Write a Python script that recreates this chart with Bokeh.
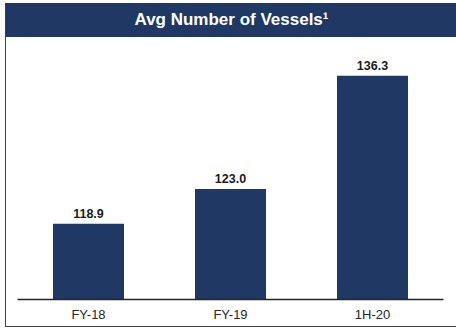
from bokeh.plotting import figure
from bokeh.models import Div, ColumnDataSource, FactorRange, Range1d
from bokeh.layouts import column
from bokeh.core.properties import value
from bokeh.embed import file_html
from bokeh.resources import INLINE

# ---- data ----
categories = ["FY-18", "FY-19", "1H-20"]
vessels = [118.9, 123.0, 136.3]
value_labels = ["118.9", "123.0", "136.3"]
title_text = "Avg Number of Vessels\u00b9"
y_start = 110.0
y_end = 140.8

NAVY = "#1F3864"
FONT = "Liberation Sans"

src = ColumnDataSource(dict(cat=categories, val=vessels, lab=value_labels))

p = figure(
    x_range=FactorRange(*categories),
    y_range=Range1d(y_start, y_end),
    width=451, height=289,
    title=None,
    y_axis_location=None,
    output_backend="svg",
    toolbar_location=None,
    min_border_left=11, min_border_right=14,
    min_border_top=0, min_border_bottom=27,
    margin=(0, 0, 0, 0),
)
p.outline_line_color = None
p.xgrid.grid_line_color = None
p.ygrid.grid_line_color = None

p.vbar(x="cat", top="val", bottom=y_start, width=0.5, fill_color=NAVY,
       line_color=None, source=src)

p.text(x="cat", y="val", text="lab", source=src, text_align="center",
       text_baseline="alphabetic", y_offset=-10,
       text_font=value(FONT), text_font_style="bold",
       text_font_size="12.5px", text_color="#1a1a1a")

ax = p.xaxis[0]
ax.axis_line_color = "#262626"
ax.axis_line_width = 1.5
ax.major_tick_line_color = None
ax.minor_tick_line_color = None
ax.major_tick_out = 0
ax.major_tick_in = 0
ax.major_label_standoff = 7
ax.major_label_text_font = FONT
ax.major_label_text_font_size = "13px"
ax.major_label_text_color = "#262626"

title = Div(
    text=title_text, width=451, height=34,
    margin=(0, 0, 0, 0),
    styles={
        "background-color": NAVY,
        "color": "white",
        "font-family": "'Liberation Sans', Arial, sans-serif",
        "font-weight": "bold",
        "font-size": "17px",
        "text-align": "center",
        "line-height": "34px",
    },
)

layout = column(
    title, p, margin=(3, 0, 0, 5), spacing=0,
    styles={"border-left": "1px solid #404040", "border-bottom": "1px solid #404040"},
)

open("out.html", "w").write(file_html(layout, INLINE))
